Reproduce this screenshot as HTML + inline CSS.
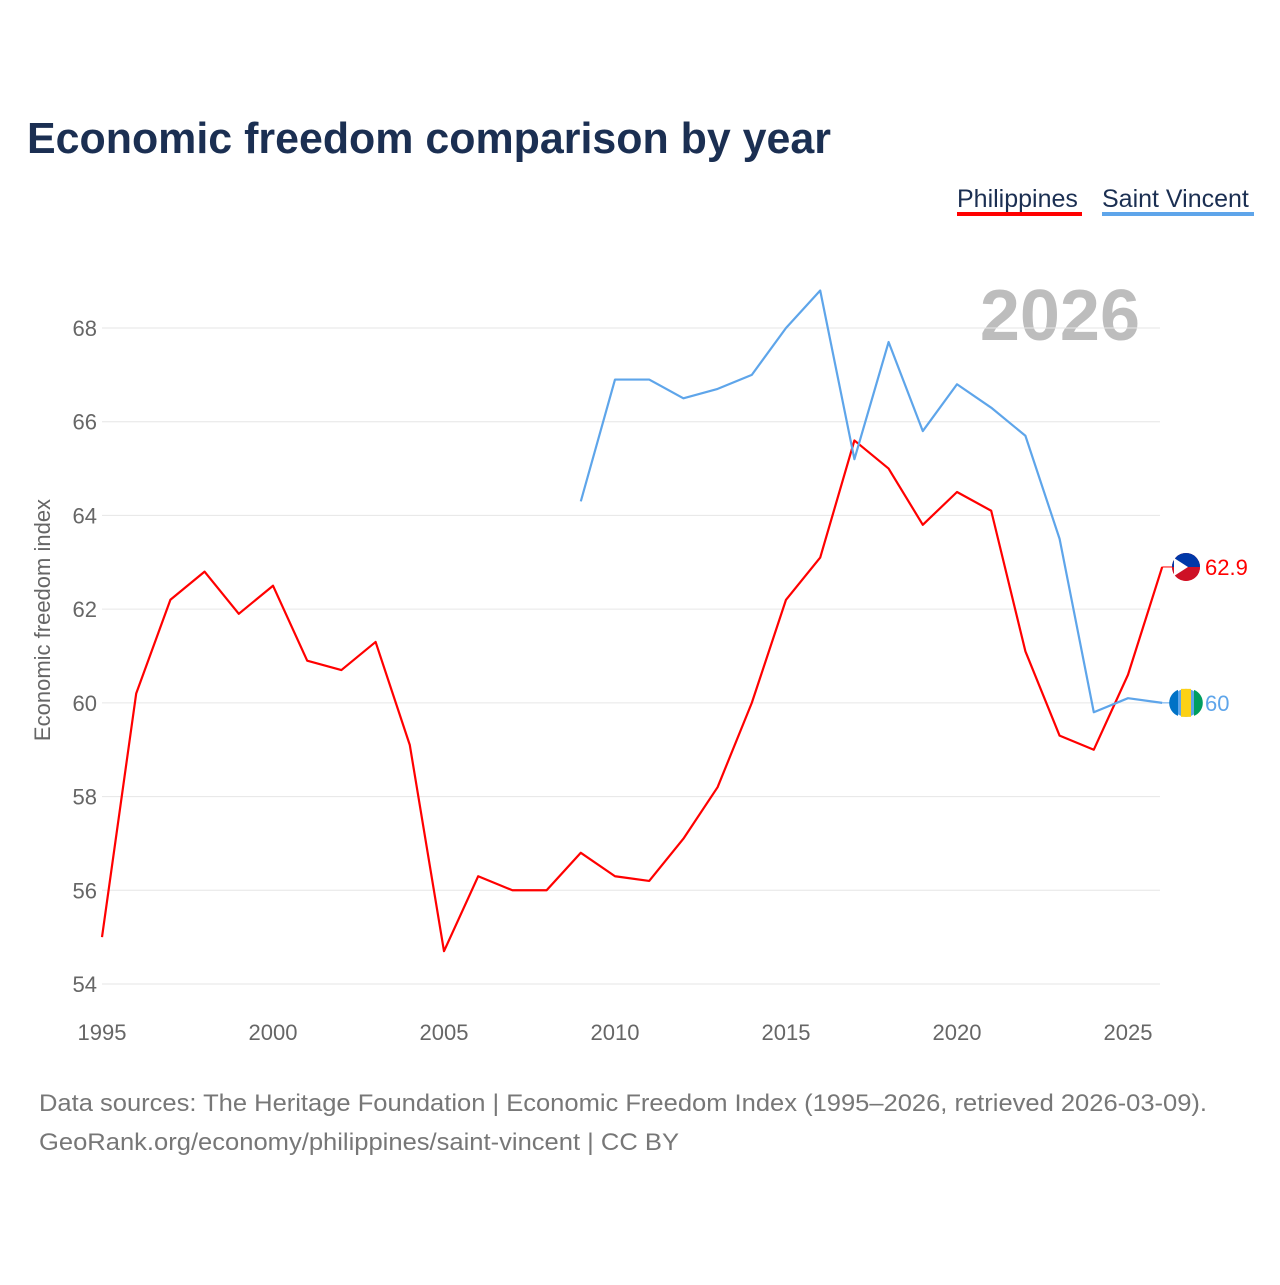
<!DOCTYPE html>
<html><head><meta charset="utf-8">
<style>
body{margin:0;background:#fff;font-family:"Liberation Sans",sans-serif;}
svg text{font-family:"Liberation Sans",sans-serif;}
</style></head>
<body>
<svg width="1280" height="1280" xmlns="http://www.w3.org/2000/svg">
<rect width="1280" height="1280" fill="#fff"/>
<text x="27" y="153" font-size="44" font-weight="bold" fill="#1b2f52" textLength="804" lengthAdjust="spacingAndGlyphs">Economic freedom comparison by year</text>
<g>
<text x="957" y="207" font-size="25" fill="#1b2f52">Philippines</text>
<rect x="957" y="212" width="125" height="4" fill="#ff0000"/>
<text x="1102" y="207" font-size="25" fill="#1b2f52">Saint Vincent</text>
<rect x="1102" y="212" width="152" height="4" fill="#5ea5ea"/>
</g>
<text x="1140" y="340" font-size="72" font-weight="bold" fill="#bdbdbd" text-anchor="end">2026</text>
<g id="grid"></g>
<g id="xt"></g>
<text transform="translate(50,620) rotate(-90)" font-size="22" fill="#666" text-anchor="middle">Economic freedom index</text>
<g id="series"></g>
<text x="39" y="1111" font-size="24" fill="#777" textLength="1168" lengthAdjust="spacingAndGlyphs">Data sources: The Heritage Foundation | Economic Freedom Index (1995–2026, retrieved 2026-03-09).</text>
<text x="39" y="1150" font-size="24" fill="#777" textLength="640" lengthAdjust="spacingAndGlyphs">GeoRank.org/economy/philippines/saint-vincent | CC BY</text>
</svg>
<script>
const phYears=[1995,1996,1997,1998,1999,2000,2001,2002,2003,2004,2005,2006,2007,2008,2009,2010,2011,2012,2013,2014,2015,2016,2017,2018,2019,2020,2021,2022,2023,2024,2025,2026];
const phValues=[55.0,60.2,62.2,62.8,61.9,62.5,60.9,60.7,61.3,59.1,54.7,56.3,56.0,56.0,56.8,56.3,56.2,57.1,58.2,60.0,62.2,63.1,65.6,65.0,63.8,64.5,64.1,61.1,59.3,59.0,60.6,62.9];
const svYears=[2009,2010,2011,2012,2013,2014,2015,2016,2017,2018,2019,2020,2021,2022,2023,2024,2025,2026];
const svValues=[64.3,66.9,66.9,66.5,66.7,67.0,68.0,68.8,65.2,67.7,65.8,66.8,66.3,65.7,63.5,59.8,60.1,60.0];
const yTicks=[54,56,58,60,62,64,66,68];
const xTicks=[1995,2000,2005,2010,2015,2020,2025];
const NS="http://www.w3.org/2000/svg";
const x=v=>102+(v-1995)*(1128-102)/30;
const y=v=>984-(v-54)*(984-328)/14;
function mk(t,a,p){const e=document.createElementNS(NS,t);for(const k in a)e.setAttribute(k,a[k]);p.appendChild(e);return e;}
const grid=document.getElementById('grid');
yTicks.forEach(t=>{
 const l=mk('line',{x1:102,x2:1160,y1:y(t),y2:y(t),stroke:'#e6e6e6','stroke-width':1},grid);
 
 
 const tx=mk('text',{x:97,y:y(t)+8,'font-size':22,fill:'#666','text-anchor':'end'},grid);
 tx.textContent=t;
 
 
});
const xt=document.getElementById('xt');
xTicks.forEach(t=>{
 const tx=mk('text',{x:x(t),y:1040,'font-size':22,fill:'#666','text-anchor':'middle'},xt);
 tx.textContent=t;
 
 
});
const ser=document.getElementById('series');
function line(ys,vs,col,name){
 const d=ys.map((yr,i)=>(i?'L':'M')+x(yr)+','+y(vs[i])).join(' ');
 const p=mk('path',{d:d,fill:'none',stroke:col,'stroke-width':2.2,'stroke-linejoin':'round'},ser);
 
 
 const ly=y(vs[vs.length-1]), lx=x(ys[ys.length-1]);
 const c=mk('circle',{cx:1186,cy:ly,r:14,fill:col},ser);
 
 
 const t=mk('text',{x:1205,y:ly+8,'font-size':22,fill:col},ser);
 t.textContent=vs[vs.length-1];
 
 
 mk('line',{x1:lx,x2:1172,y1:ly,y2:ly,stroke:col,'stroke-width':1},ser);
 return ly;
}
const pl=line(phYears,phValues,'#ff0000','philippines');
const sl=line(svYears,svValues,'#5ea5ea','saint-vincent');
mk('path',{d:`M1172,${pl} A14,14 0 0 1 1200,${pl} Z`,fill:'#0038a8'},ser);
mk('path',{d:`M1172,${pl} A14,14 0 0 0 1200,${pl} Z`,fill:'#ce1126'},ser);
mk('path',{d:`M1174,${pl-9} L1188,${pl} L1174,${pl+9} Z`,fill:'#fff'},ser);
mk('rect',{x:1181,y:sl-14,width:10,height:28,fill:'#fcd116'},ser);
mk('path',{d:`M1178,${sl-13} A14,14 0 0 0 1178,${sl+13} Z`,fill:'#0072c6'},ser);
mk('path',{d:`M1194,${sl-13} A14,14 0 0 1 1194,${sl+13} Z`,fill:'#009e60'},ser);
</script>
</body></html>
